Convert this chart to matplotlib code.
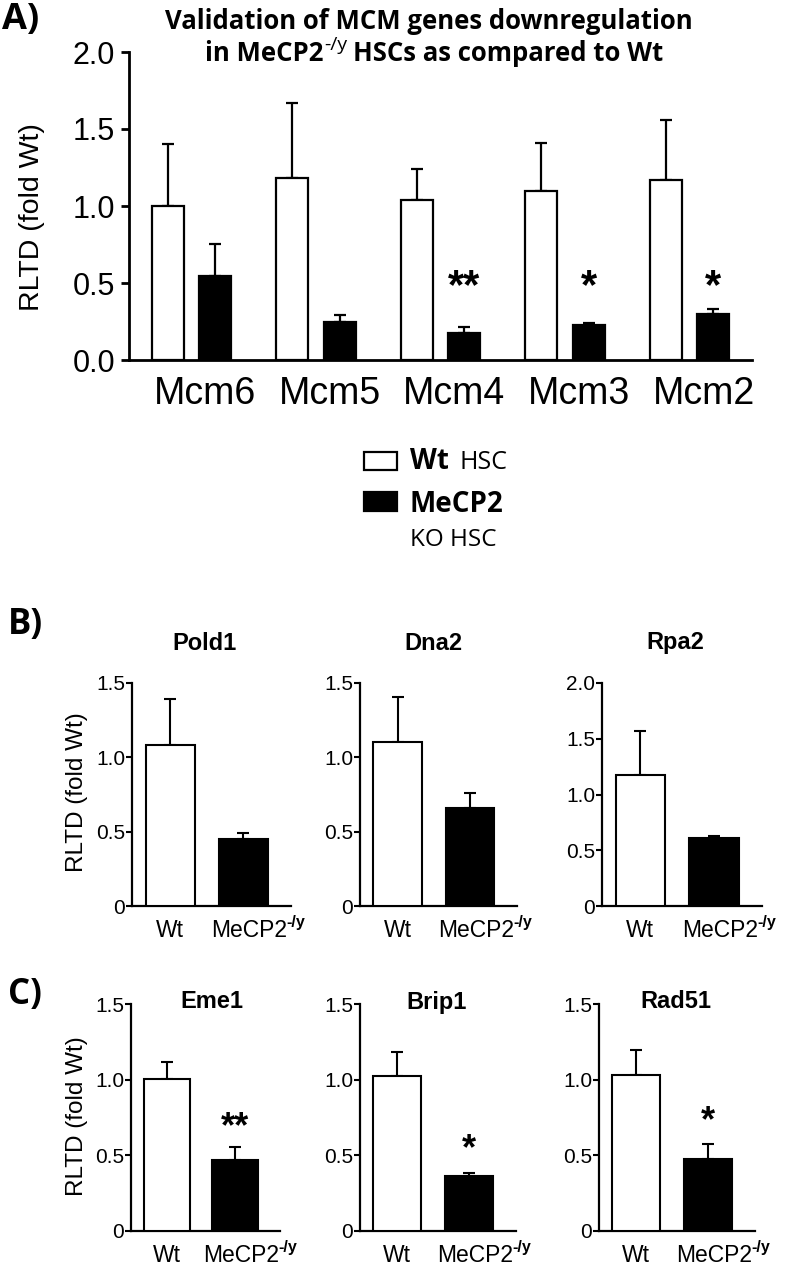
import matplotlib
matplotlib.use('Agg')
import matplotlib.pyplot as plt
from matplotlib.patches import Rectangle
import numpy as np

# ---------------- data ----------------
mcm_genes = ['Mcm6', 'Mcm5', 'Mcm4', 'Mcm3', 'Mcm2']
mcm_wt = [1.00, 1.18, 1.04, 1.10, 1.17]
mcm_wt_err = [0.40, 0.49, 0.20, 0.31, 0.39]
mcm_ko = [0.545, 0.25, 0.177, 0.225, 0.298]
mcm_ko_err = [0.21, 0.043, 0.035, 0.013, 0.031]
mcm_sig = ['', '', '**', '*', '*']
mcm_sig_y = [0.52, 0.52, 0.52, 0.52, 0.52]
mcm_yticks = [0.0, 0.5, 1.0, 1.5, 2.0]
mcm_yticklabels = ['0.0', '0.5', '1.0', '1.5', '2.0']

groups = ['Wt', 'MeCP2']
group_sup = ['', '-/y']

b_genes = ['Pold1', 'Dna2', 'Rpa2']
b_wt = [1.085, 1.105, 1.173]
b_wt_err = [0.31, 0.30, 0.395]
b_ko = [0.449, 0.656, 0.610]
b_ko_err = [0.04, 0.107, 0.015]
b_ymax = [1.5, 1.5, 2.0]

c_genes = ['Eme1', 'Brip1', 'Rad51']
c_wt = [1.007, 1.027, 1.029]
c_wt_err = [0.109, 0.153, 0.168]
c_ko = [0.468, 0.364, 0.473]
c_ko_err = [0.089, 0.016, 0.101]
c_sig = ['**', '*', '*']
c_sig_y = [0.73, 0.59, 0.77]

# ---------------- style ----------------
NARROW = ['Liberation Sans Narrow', 'Liberation Sans']
SANS = ['Liberation Sans', 'DejaVu Sans']
HUMAN = ['Open Sans', 'DejaVu Sans']

W, H = 785, 1266
fig = plt.figure(figsize=(W / 100, H / 100), dpi=100)
renderer = fig.canvas.get_renderer()


def add_ax(l, t, r, b):
    return fig.add_axes([l / W, 1 - b / H, (r - l) / W, (b - t) / H])


def ftext(x, y, s, **kw):
    return fig.text(x / W, 1 - y / H, s, **kw)


def text_width(s, **kw):
    t = fig.text(0, 0, s, **kw)
    w = t.get_window_extent(renderer).width
    t.remove()
    return w


def rich_line(parts, xc, ybase):
    """parts: list of (string, gap_before_px, dy_px, kwargs); centred at xc."""
    widths = [text_width(s, **kw) for s, g, dy, kw in parts]
    total = sum(widths) + sum(g for _, g, _, _ in parts)
    x = xc - total / 2
    for (s, g, dy, kw), w in zip(parts, widths):
        x += g
        ftext(x, ybase - dy, s, ha='left', va='baseline', **kw)
        x += w


def style_axes(ax, lw):
    for s in ['top', 'right']:
        ax.spines[s].set_visible(False)
    for s in ['left', 'bottom']:
        ax.spines[s].set_linewidth(lw)
        ax.spines[s].set_capstyle('projecting')


EC = 'black'

# ---------------- Panel A ----------------
axA = add_ax(129, 52, 752, 360)
xA = np.arange(len(mcm_genes))
off, bw = 0.19, 0.257
lwA = 1.6
axA.bar(xA - off, mcm_wt, bw, color='white', edgecolor=EC, linewidth=lwA, zorder=3)
axA.bar(xA + off, mcm_ko, bw, color='black', edgecolor=EC, linewidth=lwA, zorder=3)
axA.errorbar(xA - off, mcm_wt, yerr=[np.zeros(len(xA)), mcm_wt_err], fmt='none',
             ecolor=EC, elinewidth=lwA, capsize=4, capthick=lwA, zorder=2)
axA.errorbar(xA + off, mcm_ko, yerr=[np.zeros(len(xA)), mcm_ko_err], fmt='none',
             ecolor=EC, elinewidth=lwA, capsize=4, capthick=lwA, zorder=2)
axA.set_xlim(-0.5, 4.5)
axA.set_ylim(0, 2.0)
style_axes(axA, 2.0)
axA.set_yticks(mcm_yticks)
axA.set_yticklabels(mcm_yticklabels, fontfamily=NARROW, fontsize=22)
axA.tick_params(axis='y', length=6, width=2, pad=4)
axA.set_xticks([])
for xi, name in zip(xA, mcm_genes):
    axA.annotate(name, xy=(xi, 0), xycoords=('data', 'axes fraction'),
                 xytext=(14, -44), textcoords='offset pixels',
                 ha='center', va='baseline', fontsize=27, fontfamily=SANS)
for xi, s, sy in zip(xA, mcm_sig, mcm_sig_y):
    if s:
        axA.annotate(s, xy=(xi + off, sy), xytext=(0, -18), textcoords='offset pixels',
                     ha='center', va='baseline', fontsize=30, fontweight='bold',
                     fontfamily=SANS)

ftext(32, 217, 'RLTD (fold Wt)', rotation=90, ha='center', va='center',
      fontsize=20.5, fontfamily=SANS)
TK = dict(fontsize=18.5, fontweight='bold', fontfamily=HUMAN)
ftext(429, 29, 'Validation of MCM genes downregulation', ha='center', va='baseline', **TK)
rich_line([('in MeCP2', 0, 0, TK),
           ('-/y', 1, 11, dict(fontsize=14, fontfamily=HUMAN)),
           ('HSCs as compared to Wt', 6, 0, TK)], 434, 61)
ftext(2, 20, 'A)', ha='left', va='center', fontsize=26, fontweight='bold', fontfamily=HUMAN)

# legend
for (t, b), fc in zip([(452, 470), (492, 511)], ['white', 'black']):
    fig.add_artist(Rectangle((364 / W, 1 - b / H), 33 / W, (b - t) / H,
                             facecolor=fc, edgecolor='black', linewidth=1.6,
                             transform=fig.transFigure))
ftext(410, 469, 'Wt', ha='left', va='baseline', fontsize=20, fontweight='bold',
      fontfamily=HUMAN)
ftext(460, 469, 'HSC', ha='left', va='baseline', fontsize=18, fontfamily=HUMAN)
ftext(410, 512, 'MeCP2', ha='left', va='baseline', fontsize=20, fontweight='bold',
      fontfamily=HUMAN)
ftext(410, 546, 'KO HSC', ha='left', va='baseline', fontsize=17.5, fontfamily=HUMAN)

# ---------------- Panels B & C ----------------
xg = np.arange(len(groups))
bwBC = 0.67
lwBC = 1.5


def small_panel(box, wt, wt_err, ko, ko_err, ymax, title, title_xy, sig=None, sig_y=None):
    ax = add_ax(*box)
    ax.bar(xg[0], wt, bwBC, color='white', edgecolor=EC, linewidth=lwBC, zorder=3)
    ax.bar(xg[1], ko, bwBC, color='black', edgecolor=EC, linewidth=lwBC, zorder=3)
    ax.errorbar(xg, [wt, ko], yerr=[[0, 0], [wt_err, ko_err]], fmt='none', ecolor=EC,
                elinewidth=lwBC, capsize=4, capthick=lwBC, zorder=2)
    ax.set_xlim(-0.52, 1.65)
    ax.set_ylim(0, ymax)
    style_axes(ax, 1.6)
    ticks = np.arange(0, ymax + 0.01, 0.5)
    ax.set_yticks(ticks)
    ax.set_yticklabels(['0'] + ['%.1f' % t for t in ticks[1:]], fontfamily=NARROW,
                       fontsize=15)
    ax.tick_params(axis='y', length=4, width=1.5, pad=1)
    ax.set_xticks([])
    for xi, g, sup in zip(xg, groups, group_sup):
        a = ax.annotate(g, xy=(xi, 0), xycoords=('data', 'axes fraction'),
                        xytext=(0 if xi == 0 else 6, -31), textcoords='offset pixels',
                        ha='center', va='baseline', fontsize=16.5, fontfamily=SANS)
        if sup:
            ax.annotate(sup, xy=(1, 1), xycoords=a, xytext=(-1, 4),
                        textcoords='offset pixels', ha='left', va='top',
                        fontsize=11.5, fontweight='bold', fontfamily=SANS)
    if sig:
        ax.annotate(sig, xy=(xg[1], sig_y), xytext=(0, -17), textcoords='offset pixels',
                    ha='center', va='baseline', fontsize=26, fontweight='bold',
                    fontfamily=SANS)
    ftext(title_xy[0], title_xy[1], title, ha='center', va='center', fontsize=17,
          fontweight='bold', fontfamily=NARROW)
    return ax


boxes_b = [(132, 683, 291, 906), (360, 683, 517, 906), (602, 683, 762, 906)]
titles_b = [(205, 643), (433, 643), (675, 643)]
for i in range(3):
    small_panel(boxes_b[i], b_wt[i], b_wt_err[i], b_ko[i], b_ko_err[i], b_ymax[i],
                b_genes[i], titles_b[i])

boxes_c = [(131, 1004, 280, 1231), (360, 1004, 516, 1231), (599, 1004, 755, 1231)]
titles_c = [(212, 1002), (437, 1002), (676, 1002)]
for i in range(3):
    small_panel(boxes_c[i], c_wt[i], c_wt_err[i], c_ko[i], c_ko_err[i], 1.5,
                c_genes[i], titles_c[i], sig=c_sig[i], sig_y=c_sig_y[i])

ftext(77, 792, 'RLTD (fold Wt)', rotation=90, ha='center', va='center', fontsize=17.5,
      fontfamily=SANS)
ftext(77, 1116, 'RLTD (fold Wt)', rotation=90, ha='center', va='center', fontsize=17.5,
      fontfamily=SANS)
ftext(8, 625, 'B)', ha='left', va='center', fontsize=25, fontweight='bold', fontfamily=HUMAN)
ftext(8, 995, 'C)', ha='left', va='center', fontsize=25, fontweight='bold', fontfamily=HUMAN)

fig.savefig('out.png', dpi=100)
